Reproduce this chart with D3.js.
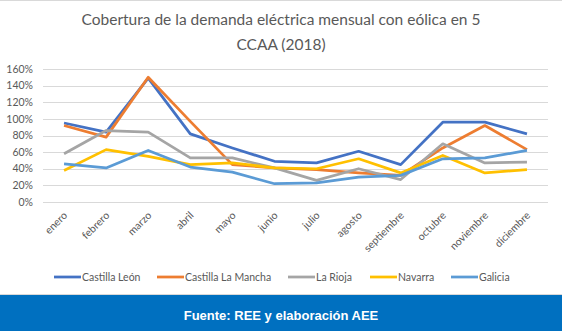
<!DOCTYPE html>
<html>
<head>
<meta charset="utf-8">
<script src="https://cdn.jsdelivr.net/npm/d3@7"></script>
<style>
  html, body { margin: 0; padding: 0; background: #fff; overflow: hidden; }
  svg { display: block; overflow: visible; }
</style>
</head>
<body>
<svg id="chart"></svg>
<script>
const width = 562;
const height = 331;

// Months on the x axis
const months = ["enero", "febrero", "marzo", "abril", "mayo", "junio", "julio",
  "agosto", "septiembre", "octubre", "noviembre", "diciembre"];

// Monthly wind coverage (%) per region
const castillaLeon    = [95, 84, 149, 82, 65, 49, 47, 61, 45, 96, 96, 82];
const castillaMancha  = [92, 78, 150, 97, 45, 41, 39, 35, 32, 65, 92, 63];
const laRioja         = [58, 86, 84, 53, 53, 41, 26, 40, 27, 70, 47, 48];
const navarra         = [38, 63, 55, 45, 47, 41, 40, 52, 35, 56, 35, 39];
const galicia         = [46, 41, 62, 42, 36, 22, 23, 30, 32, 52, 53, 62];

const yTicks = [0, 20, 40, 60, 80, 100, 120, 140, 160];

const seriesNames = ["Castilla León", "Castilla La Mancha", "La Rioja", "Navarra", "Galicia"];
const seriesColors = ["#4472C4", "#ED7D31", "#A5A5A5", "#FFC000", "#5B9BD5"];
const series = [castillaLeon, castillaMancha, laRioja, navarra, galicia].map((values, i) => ({
  name: seriesNames[i],
  color: seriesColors[i],
  values: values.map((v, j) => ({ month: months[j], value: v }))
}));

const font = "Lato, 'Open Sans', sans-serif";
const textColor = "#595959";

const svg = d3.select("#chart")
  .attr("width", width)
  .attr("height", height)
  .attr("viewBox", `0 0 ${width} ${height}`);

// Thin frame line at the top
svg.append("line")
  .attr("x1", 0).attr("x2", width)
  .attr("y1", 0.5).attr("y2", 0.5)
  .attr("stroke", "#D9D9D9");

// Title (two lines)
svg.append("text")
  .attr("x", width / 2).attr("y", 25)
  .attr("text-anchor", "middle")
  .attr("fill", textColor)
  .style("font-family", font)
  .style("font-size", "15.5px")
  .text("Cobertura de la demanda eléctrica mensual con eólica en 5");
svg.append("text")
  .attr("x", width / 2).attr("y", 50)
  .attr("text-anchor", "middle")
  .attr("fill", textColor)
  .style("font-family", font)
  .style("font-size", "15.5px")
  .text("CCAA (2018)");

const margin = { top: 69, right: 14, bottom: 129, left: 43 };
const innerWidth = width - margin.left - margin.right;
const innerHeight = height - margin.top - margin.bottom;

const g = svg.append("g")
  .attr("transform", `translate(${margin.left},${margin.top})`);

const xScale = d3.scaleBand()
  .domain(months)
  .range([0, innerWidth]);

const yScale = d3.scaleLinear()
  .domain([0, 160])
  .range([innerHeight, 0]);

// Horizontal gridlines
g.selectAll(".grid")
  .data(yTicks)
  .enter()
  .append("line")
  .attr("class", "grid")
  .attr("x1", 0).attr("x2", innerWidth)
  .attr("y1", d => Math.round(yScale(d)) + 0.5)
  .attr("y2", d => Math.round(yScale(d)) + 0.5)
  .attr("stroke", "#D9D9D9");

// Y tick labels
g.selectAll(".y-label")
  .data(yTicks)
  .enter()
  .append("text")
  .attr("class", "y-label")
  .attr("x", -10)
  .attr("y", d => yScale(d))
  .attr("dy", "0.35em")
  .attr("text-anchor", "end")
  .attr("fill", textColor)
  .style("font-family", font)
  .style("font-size", "10.5px")
  .text(d => d + "%");

// Rotated month labels
g.selectAll(".x-label")
  .data(months)
  .enter()
  .append("text")
  .attr("class", "x-label")
  .attr("text-anchor", "end")
  .attr("fill", textColor)
  .style("font-family", font)
  .style("font-size", "10.5px")
  .attr("transform", d =>
    `translate(${xScale(d) + xScale.bandwidth() / 2 + 4},${innerHeight + 14}) rotate(-45)`)
  .text(d => d);

const line = d3.line()
  .x(d => xScale(d.month) + xScale.bandwidth() / 2)
  .y(d => yScale(d.value));

g.selectAll(".series")
  .data(series)
  .enter()
  .append("path")
  .attr("class", "series")
  .attr("fill", "none")
  .attr("stroke", d => d.color)
  .attr("stroke-width", 2.75)
  .attr("stroke-linejoin", "round")
  .attr("d", d => line(d.values));

// Legend
const legendX = [54, 157, 288, 370, 451];
const legend = svg.append("g")
  .attr("transform", "translate(0,277)");
const item = legend.selectAll("g")
  .data(series)
  .enter()
  .append("g")
  .attr("transform", (d, i) => `translate(${legendX[i]},0)`);
item.append("line")
  .attr("x1", 0).attr("x2", 27)
  .attr("stroke", d => d.color)
  .attr("stroke-width", 2.75);
item.append("text")
  .attr("x", 28)
  .attr("dy", "0.35em")
  .attr("fill", textColor)
  .style("font-family", font)
  .style("font-size", "10.5px")
  .text(d => d.name);

// Source footer
svg.append("line")
  .attr("x1", 0).attr("x2", width)
  .attr("y1", 294.5).attr("y2", 294.5)
  .attr("stroke", "#D9D9D9");
svg.append("rect")
  .attr("x", 0).attr("y", 295)
  .attr("width", width).attr("height", height - 295)
  .attr("fill", "#0070C0");
svg.append("text")
  .attr("x", width / 2)
  .attr("y", 315)
  .attr("dy", "0.35em")
  .attr("text-anchor", "middle")
  .attr("fill", "#fff")
  .style("font-family", "'Liberation Sans', Arial, sans-serif")
  .style("font-weight", "bold")
  .style("font-size", "13px")
  .text("Fuente: REE y elaboración AEE");
</script>
</body>
</html>
